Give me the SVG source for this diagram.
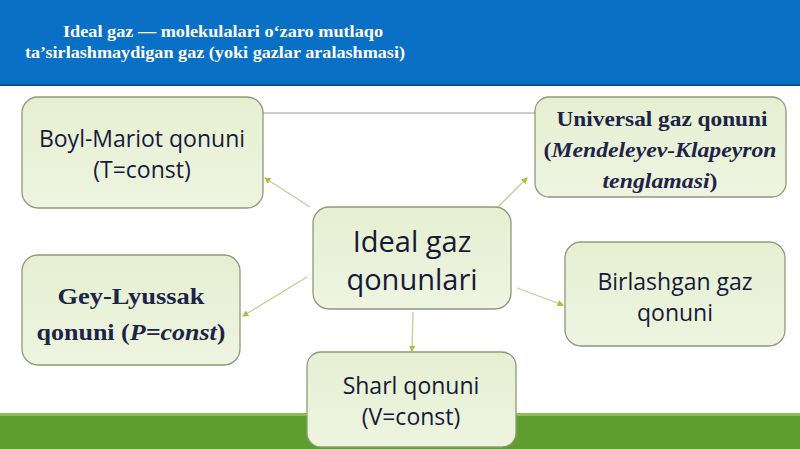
<svg xmlns="http://www.w3.org/2000/svg" width="800" height="449" viewBox="0 0 800 449">
<defs>
<linearGradient id="boxg" x1="0" y1="0" x2="0" y2="1">
<stop offset="0" stop-color="#e6efd2"/>
<stop offset="1" stop-color="#eef4e0"/>
</linearGradient>
<marker id="arr" viewBox="0 0 6 6" refX="5" refY="3" markerWidth="5" markerHeight="5" orient="auto">
<path d="M0,0 L6,3 L0,6 z" fill="#a8c23e"/>
</marker>
<style>
.box{fill:url(#boxg);stroke:#8e9a78;stroke-width:1.3}
.sans{font-family:"Open Sans","Noto Sans","Liberation Sans",sans-serif;fill:#161a3a;text-anchor:middle;font-size:23px}
.big{font-size:29px}
.serif{font-family:"Liberation Serif","DejaVu Serif",serif;font-weight:bold;fill:#1c2447;text-anchor:middle}
.conn{stroke:#c2cf9a;stroke-width:1.3;fill:none;marker-end:url(#arr)}
.title{font-family:"Liberation Serif","DejaVu Serif",serif;font-weight:bold;fill:#ffffff;font-size:17px;text-anchor:middle}
</style>
</defs>
<rect x="0" y="0" width="800" height="449" fill="#ffffff"/>
<rect x="0" y="0" width="800" height="85" fill="#0a70c6"/>
<rect x="0" y="84" width="800" height="2" fill="#0b4f86"/>
<rect x="0" y="414" width="800" height="35" fill="#5f9e2e"/>
<rect x="0" y="413" width="800" height="3" fill="#8cc152"/>
<text class="title" x="223" y="37" textLength="320" lengthAdjust="spacingAndGlyphs">Ideal gaz — molekulalari o‘zaro mutlaqo</text>
<text class="title" x="215" y="58" textLength="380" lengthAdjust="spacingAndGlyphs">ta’sirlashmaydigan gaz (yoki gazlar aralashmasi)</text>

<g id="connectors">
<line x1="263" y1="113" x2="535" y2="113" stroke="#9a9a9a" stroke-width="1"/>
<line class="conn" x1="310" y1="207" x2="265" y2="178"/>
<line class="conn" x1="498" y1="207" x2="527" y2="178"/>
<line class="conn" x1="307" y1="277" x2="243" y2="316"/>
<line class="conn" x1="517" y1="288" x2="563" y2="305"/>
<line class="conn" x1="413" y1="312" x2="412" y2="351"/>
</g>

<g id="boyl">
<rect class="box" x="22" y="97" width="241" height="111" rx="16"/>
<text class="sans" x="142" y="147">Boyl-Mariot qonuni</text>
<text class="sans" x="142" y="178">(T=const)</text>
</g>

<g id="universal">
<rect class="box" x="535" y="97" width="251" height="100" rx="14"/>
<text class="serif" x="662" y="126" font-size="21" textLength="211" lengthAdjust="spacingAndGlyphs">Universal gaz qonuni</text>
<text class="serif" x="660" y="157" font-size="21" textLength="233" lengthAdjust="spacingAndGlyphs">(<tspan font-style="italic">Mendeleyev-Klapeyron</tspan></text>
<text class="serif" x="660" y="188" font-size="21" textLength="115" lengthAdjust="spacingAndGlyphs"><tspan font-style="italic">tenglamasi</tspan>)</text>
</g>

<g id="center">
<rect class="box" x="313" y="207" width="198" height="102" rx="16"/>
<text class="sans big" x="412" y="252">Ideal gaz</text>
<text class="sans big" x="412" y="290">qonunlari</text>
</g>

<g id="gey">
<rect class="box" x="22" y="255" width="218" height="110" rx="16"/>
<text class="serif" x="131" y="304" font-size="23" textLength="147" lengthAdjust="spacingAndGlyphs">Gey-Lyussak</text>
<text class="serif" x="131" y="340" font-size="23" textLength="189" lengthAdjust="spacingAndGlyphs">qonuni (<tspan font-style="italic">P=const</tspan>)</text>
</g>

<g id="birlashgan">
<rect class="box" x="565" y="242" width="220" height="104" rx="16"/>
<text class="sans" x="675" y="290">Birlashgan gaz</text>
<text class="sans" x="675" y="321">qonuni</text>
</g>

<g id="sharl">
<rect class="box" x="307" y="352" width="209" height="95" rx="14"/>
<text class="sans" x="411" y="394">Sharl qonuni</text>
<text class="sans" x="411" y="425">(V=const)</text>
</g>
</svg>
